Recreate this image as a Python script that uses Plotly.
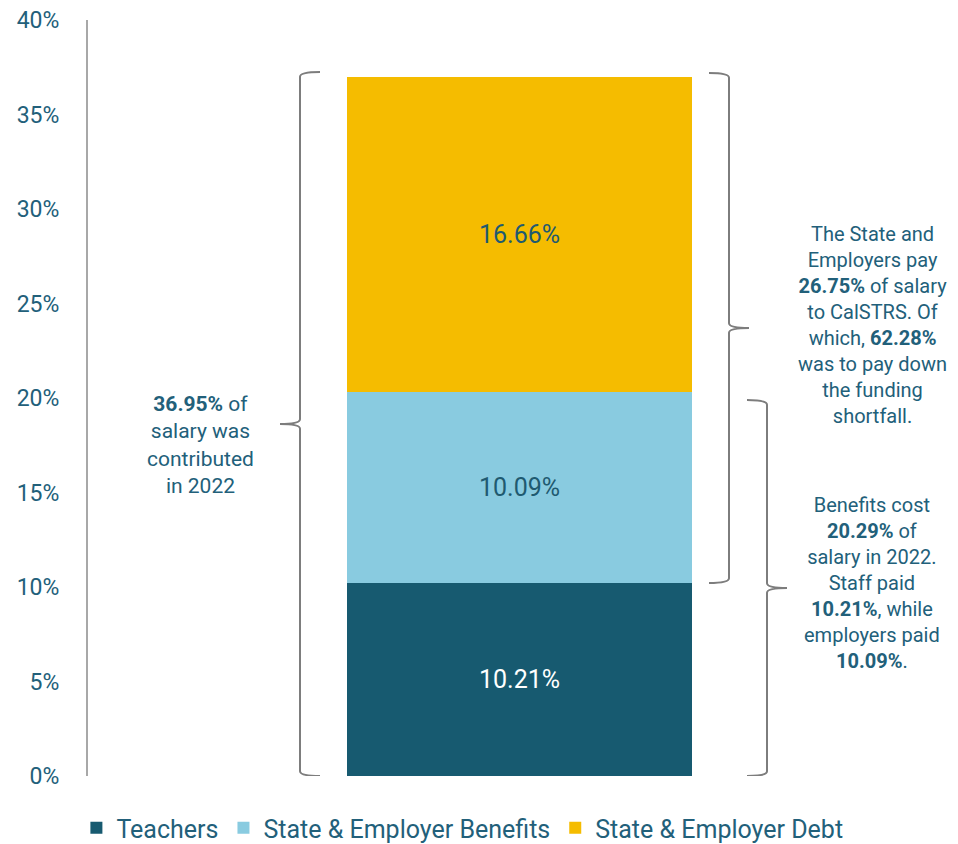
import plotly.graph_objects as go

# contribution rates in 2022, % of salary
series = ["Teachers", "State & Employer Benefits", "State & Employer Debt"]
values = [10.21, 10.09, 16.66]
colors = ["#175a70", "#89cbe0", "#f5bc00"]
label_colors = ["#ffffff", "#1f5a70", "#1f5a70"]

total = 36.95
state_total = 26.75
debt_share = 62.28
benefits_total = 20.29

y_ticks = [0, 5, 10, 15, 20, 25, 30, 35, 40]
y_tick_labels = [f"{t}%" for t in y_ticks]

TEXT = "#22607a"
FONT = "Roboto"

fig = go.Figure()

# x axis is just a horizontal layout axis for one stacked column
bar_x = 431.5
bar_w = 345
for name, v, c, lc in zip(series, values, colors, label_colors):
    fig.add_trace(
        go.Bar(
            x=[bar_x],
            y=[v],
            width=[bar_w],
            name=name,
            marker=dict(color=c, line=dict(width=0)),
            text=[f"{v:.2f}%"],
            textposition="inside",
            insidetextanchor="middle",
            textangle=0,
            textfont=dict(color=lc, size=25, family=FONT),
            hovertemplate=f"{name}: %{{y:.2f}}%<extra></extra>",
        )
    )


def brace(x, y0, y1, direction, hook=20, tip=20, r=0.25):
    # direction: -1 tip points left, +1 tip points right
    h = -direction * hook
    t = direction * tip
    ym = (y0 + y1) / 2
    return (
        f"M {x + h},{y1} Q {x},{y1} {x},{y1 - r} "
        f"L {x},{ym + r} Q {x},{ym} {x + t},{ym} "
        f"Q {x},{ym} {x},{ym - r} "
        f"L {x},{y0 + r} Q {x},{y0} {x + h},{y0}"
    )


teachers = values[0]
brace_line = dict(color="#7d7d7d", width=2)
fig.add_shape(type="path", path=brace(212, 0, total + 0.3, -1), line=brace_line)
fig.add_shape(type="path", path=brace(641, teachers, total + 0.25, 1), line=brace_line)
fig.add_shape(type="path", path=brace(679, 0, benefits_total - 0.4, 1), line=brace_line)

fig.add_annotation(
    x=112, y=17.5, xref="x", yref="y",
    text=f"<b>{total:.2f}%</b> of<br>salary was<br>contributed<br>in 2022",
    showarrow=False, align="center",
    font=dict(size=21, color=TEXT, family=FONT),
)
fig.add_annotation(
    x=784, y=23.84, xref="x", yref="y",
    text=(
        f"The State and<br>Employers pay<br><b>{state_total:.2f}%</b> of salary<br>"
        f"to CalSTRS. Of<br>which, <b>{debt_share:.2f}%</b><br>was to pay down<br>"
        "the funding<br>shortfall."
    ),
    showarrow=False, align="center",
    font=dict(size=20, color=TEXT, family=FONT),
)
fig.add_annotation(
    x=784, y=10.2, xref="x", yref="y",
    text=(
        f"Benefits cost<br><b>{benefits_total:.2f}%</b> of<br>salary in 2022.<br>"
        f"Staff paid<br><b>{values[0]:.2f}%</b>, while<br>employers paid<br>"
        f"<b>{values[1]:.2f}%</b>."
    ),
    showarrow=False, align="center",
    font=dict(size=20, color=TEXT, family=FONT),
)

# page body adds an 8px offset, so the figure is 8px smaller on each axis
fig.update_layout(
    width=950,
    height=836,
    barmode="stack",
    plot_bgcolor="white",
    paper_bgcolor="white",
    margin=dict(l=80, r=0, t=12, b=68, autoexpand=False),
    font=dict(family=FONT, color=TEXT, size=21),
    showlegend=True,
    legend=dict(
        orientation="h",
        traceorder="normal",
        x=0.072, xref="container", xanchor="left",
        y=0.019, yref="container", yanchor="middle",
        font=dict(size=25, color=TEXT, family=FONT),
        itemclick=False,
    ),
    xaxis=dict(
        range=[0, 870],
        visible=False,
        fixedrange=True,
    ),
    yaxis=dict(
        range=[0, 40],
        tickvals=y_ticks,
        ticktext=y_tick_labels,
        showgrid=False,
        zeroline=False,
        showline=True,
        linecolor="#a8a8a8",
        linewidth=2,
        ticks="",
        automargin=False,
        ticklabeloverflow="allow",
        ticklabelstandoff=22,
        tickfont=dict(size=23, color=TEXT, family=FONT),
    ),
)

fig.write_html("out.html")
